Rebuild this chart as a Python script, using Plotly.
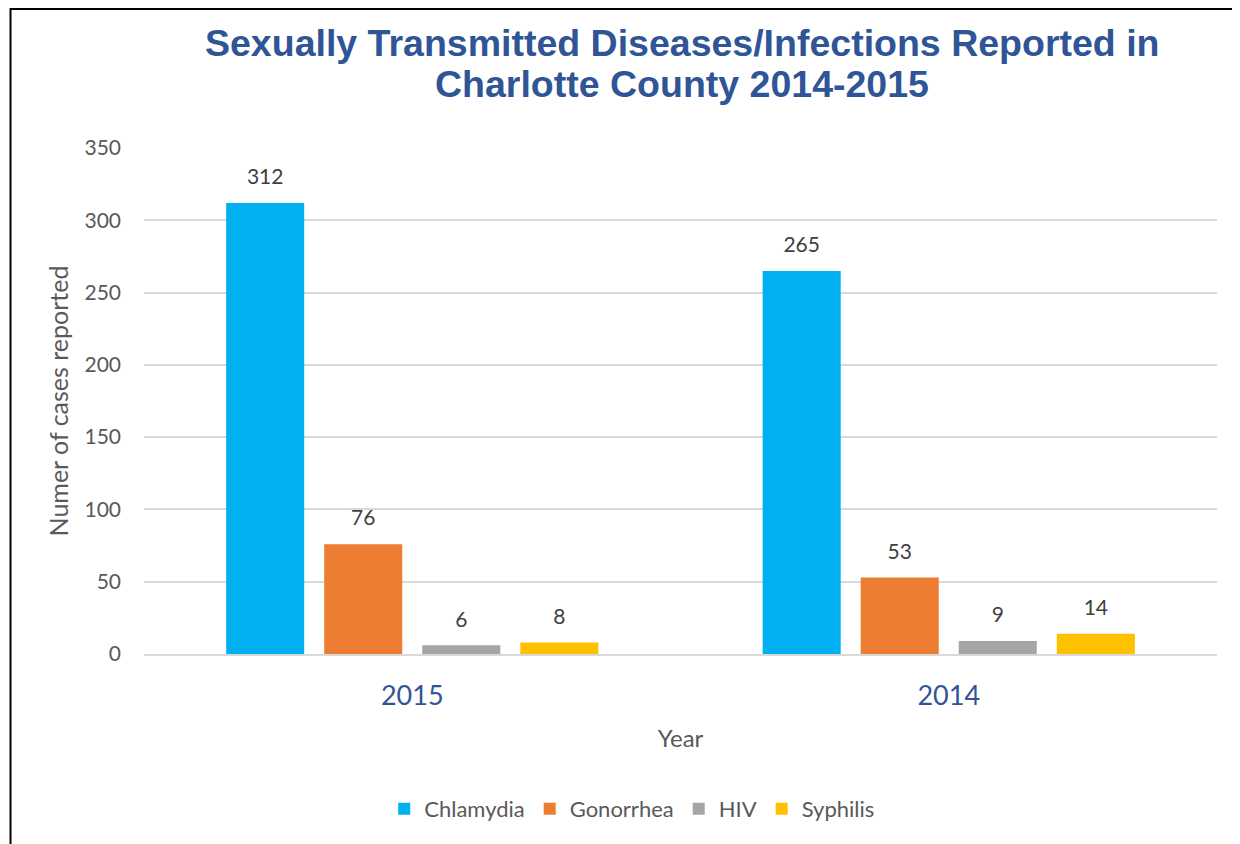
import plotly.graph_objects as go

years = ["2015", "2014"]
series_names = ["Chlamydia", "Gonorrhea", "HIV", "Syphilis"]
chlamydia = [312, 265]
gonorrhea = [76, 53]
hiv = [6, 9]
syphilis = [8, 14]
colors = ["#00B0F0", "#ED7D31", "#A5A5A5", "#FFC000"]
y_ticks = [0, 50, 100, 150, 200, 250, 300, 350]
title_lines = ["Sexually Transmitted Diseases/Infections Reported in", "Charlotte County 2014-2015"]

values = [chlamydia, gonorrhea, hiv, syphilis]
GAP = 0.269

fig = go.Figure()
for name, vals, col in zip(series_names, values, colors):
    fig.add_trace(go.Bar(
        x=years, y=vals, name=name, marker=dict(color=col, line=dict(width=0)),
    ))
# data labels, grouped the same way as the bars
for name, vals in zip(series_names, values):
    fig.add_trace(go.Scatter(
        x=years, y=vals, mode="markers+text", showlegend=False, hoverinfo="skip",
        marker=dict(size=20, color="rgba(0,0,0,0)"),
        text=[str(v) for v in vals], textposition="top center",
        textfont=dict(family="Lato", size=21, color="#404040"),
        cliponaxis=False,
    ))

fig.update_layout(
    width=1232, height=836,
    paper_bgcolor="white", plot_bgcolor="white",
    margin=dict(l=136, r=23, t=140, b=190),
    barmode="group", bargap=GAP, bargroupgap=0.204,
    scattermode="group", scattergap=GAP,
    font=dict(family="Lato", color="#595959"),
    xaxis=dict(
        tickfont=dict(family="Lato", size=27, color="#2F5597"),
        title=dict(text="Year", font=dict(family="Lato", size=24, color="#595959"), standoff=20),
        showline=True, linecolor="#d9d9d9", linewidth=2, ticklabelstandoff=17,
    ),
    yaxis=dict(
        range=[0, 350], tickvals=y_ticks, showgrid=True, gridcolor="#d9d9d9", gridwidth=1.5,
        zeroline=False, tickfont=dict(family="Lato", size=21, color="#595959"),
        title=dict(text="Numer of cases reported", font=dict(family="Lato", size=25, color="#595959"), standoff=8),
        ticklabelstandoff=22,
    ),
    legend=dict(
        orientation="h", x=0.455, xanchor="center", y=-0.306, yanchor="middle",
        font=dict(family="Lato", size=22, color="#595959"), itemwidth=30,
    ),
    annotations=[
        dict(text=title_lines[0], xref="paper", yref="paper", x=0.501, y=1.2075,
             xanchor="center", yanchor="middle", showarrow=False,
             font=dict(family="Liberation Sans", size=37.5, color="#2F5597", weight="bold")),
        dict(text=title_lines[1], xref="paper", yref="paper", x=0.501, y=1.1255,
             xanchor="center", yanchor="middle", showarrow=False,
             font=dict(family="Liberation Sans", size=37.5, color="#2F5597", weight="bold")),
    ],
    shapes=[dict(
        type="rect", xref="paper", yref="paper",
        x0=-0.1244, x1=1.05, y0=-0.42, y1=1.2747,
        line=dict(color="black", width=2), fillcolor="rgba(0,0,0,0)", layer="above",
    )],
)

fig.write_html("out.html")
